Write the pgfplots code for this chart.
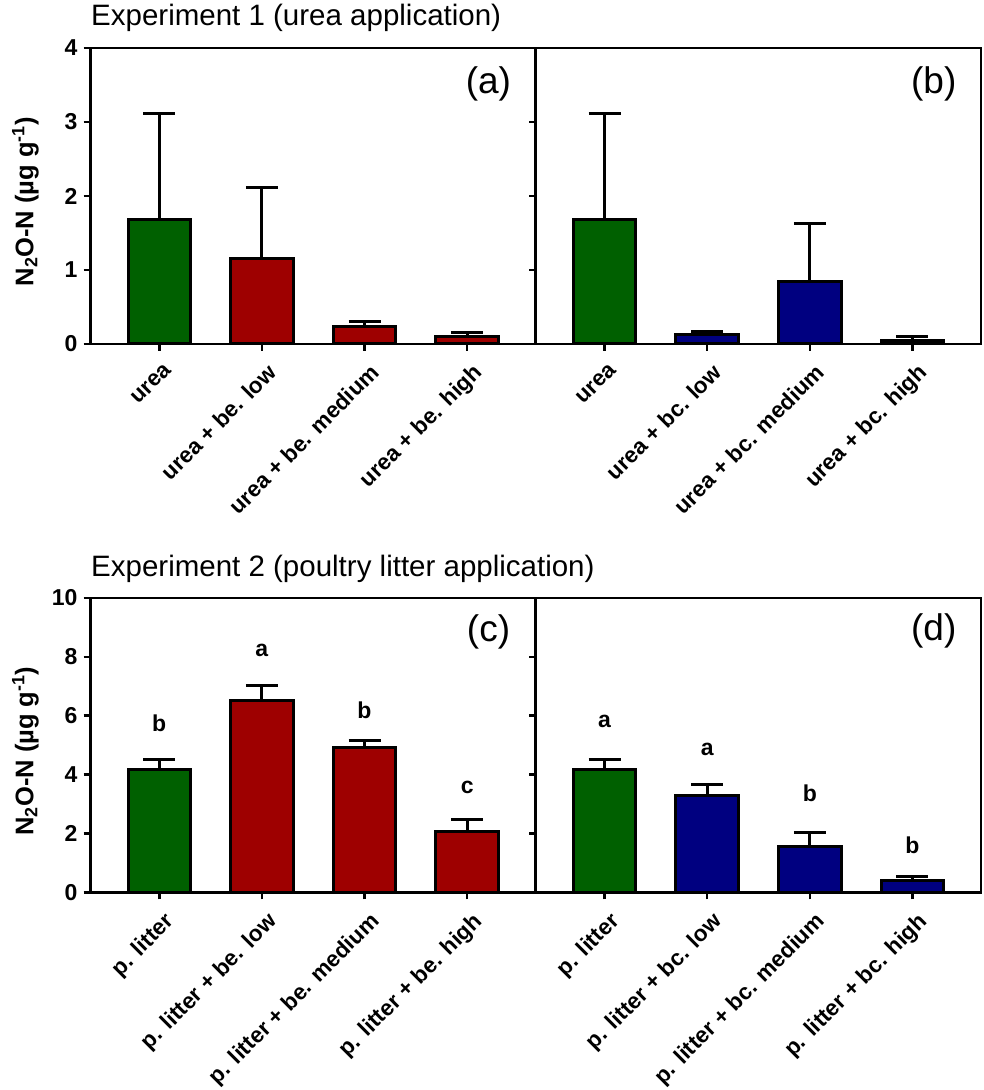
\documentclass[border=0pt]{standalone}
\usepackage{fontspec}
\setmainfont{Liberation Sans}
\usepackage{pgfplots}
\pgfplotsset{compat=1.18}

\definecolor{cgreen}{RGB}{0,96,0}
\definecolor{cred}{RGB}{158,0,0}
\definecolor{cblue}{RGB}{0,0,128}

\pgfplotsset{
  panel/.style={
    scale only axis, width=445pt,
    xmin=-0.668, xmax=3.668, ymin=0,
    axis line style={line width=2.6pt},
    tick style={line width=2.6pt, black},
    major tick length=7pt,
    tick align=outside,
    xtick={0,1,2,3}, xtick pos=bottom, ytick pos=left,
    xticklabel style={rotate=45, anchor=north east, inner sep=1pt,
      xshift=-4pt, yshift=-10pt,
      font=\fontsize{22.5}{22.5}\selectfont\bfseries},
    yticklabel style={inner sep=1pt, xshift=-5pt,
      font=\fontsize{23}{23}\selectfont\bfseries},
    /pgf/number format/assume math mode=true,
    ylabel style={at={(axis description cs:-0.1465,0.48)}, anchor=center,
      font=\fontsize{25.5}{25.5}\selectfont\bfseries},
    clip=false,
  },
  barstyle/.style={ybar, bar width=62.5pt, bar shift=0pt, draw=black,
    line width=3pt, fill=#1,
    error bars/.cd, y dir=plus, y explicit,
    error bar style={line width=3pt, black},
    error mark options={rotate=90, mark size=16pt, line width=3pt, black}},
}
\tikzset{
  letter/.style={font=\fontsize{23}{23}\selectfont\bfseries},
  tag/.style={anchor=east, inner sep=0pt, font=\fontsize{37}{37}\selectfont},
}

\begin{document}
\begin{tikzpicture}
\useasboundingbox (0,0) rectangle (984pt,1090pt);

\node[anchor=base west, inner sep=0pt, font=\fontsize{29.5}{29.5}\selectfont] at (91pt,1064pt)
  {Experiment 1 (urea application)};
\node[anchor=base west, inner sep=0pt, font=\fontsize{29.5}{29.5}\selectfont] at (91pt,513.5pt)
  {Experiment 2 (poultry litter application)};

% (a) urea + be.
\begin{axis}[panel, at={(90.7pt,746pt)}, anchor=south west, height=296pt,
  ymax=4, ytick={0,1,2,3,4},
  xticklabels={urea, urea + be. low, urea + be. medium, urea + be. high},
  ylabel={N\textsubscript{2}O-N (µg g\textsuperscript{-1})}]
\addplot[barstyle=cgreen] coordinates {(0,1.68) +- (0,1.44)};
\addplot[barstyle=cred] coordinates {(1,1.15) +- (0,0.97) (2,0.24) +- (0,0.07) (3,0.10) +- (0,0.05)};
\node[tag] at (rel axis cs:0.945,0.88) {(a)};
\end{axis}

% (b) urea + bc.
\begin{axis}[panel, at={(536pt,746pt)}, anchor=south west, height=296pt,
  ymax=4, ytick={0,1,2,3,4}, yticklabels={,,,,},
  xticklabels={urea, urea + bc. low, urea + bc. medium, urea + bc. high}]
\addplot[barstyle=cgreen] coordinates {(0,1.68) +- (0,1.44)};
\addplot[barstyle=cblue] coordinates {(1,0.13) +- (0,0.04) (2,0.85) +- (0,0.78) (3,0.05) +- (0,0.05)};
\node[tag] at (rel axis cs:0.945,0.88) {(b)};
\end{axis}

% (c) poultry litter + be.
\begin{axis}[panel, at={(90.7pt,197.5pt)}, anchor=south west, height=294.5pt,
  ymax=10, ytick={0,2,4,6,8,10},
  xticklabels={p. litter, p. litter + be. low, p. litter + be. medium, p. litter + be. high},
  ylabel={N\textsubscript{2}O-N (µg g\textsuperscript{-1})}]
\addplot[barstyle=cgreen] coordinates {(0,4.18) +- (0,0.33)};
\addplot[barstyle=cred] coordinates {(1,6.53) +- (0,0.49) (2,4.91) +- (0,0.25) (3,2.06) +- (0,0.42)};
\node[letter] at (axis cs:0,5.74) {b};
\node[letter] at (axis cs:1,8.22) {a};
\node[letter] at (axis cs:2,6.19) {b};
\node[letter] at (axis cs:3,3.56) {c};
\node[tag] at (rel axis cs:0.943,0.886) {(c)};
\end{axis}

% (d) poultry litter + bc.
\begin{axis}[panel, at={(536pt,197.5pt)}, anchor=south west, height=294.5pt,
  ymax=10, ytick={0,2,4,6,8,10}, yticklabels={,,,,,},
  xticklabels={p. litter, p. litter + bc. low, p. litter + bc. medium, p. litter + bc. high}]
\addplot[barstyle=cgreen] coordinates {(0,4.18) +- (0,0.35)};
\addplot[barstyle=cblue] coordinates {(1,3.30) +- (0,0.36) (2,1.55) +- (0,0.48) (3,0.42) +- (0,0.13)};
\node[letter] at (axis cs:0,5.80) {a};
\node[letter] at (axis cs:1,4.87) {a};
\node[letter] at (axis cs:2,3.36) {b};
\node[letter] at (axis cs:3,1.61) {b};
\node[tag] at (rel axis cs:0.945,0.888) {(d)};
\end{axis}
\end{tikzpicture}
\end{document}
